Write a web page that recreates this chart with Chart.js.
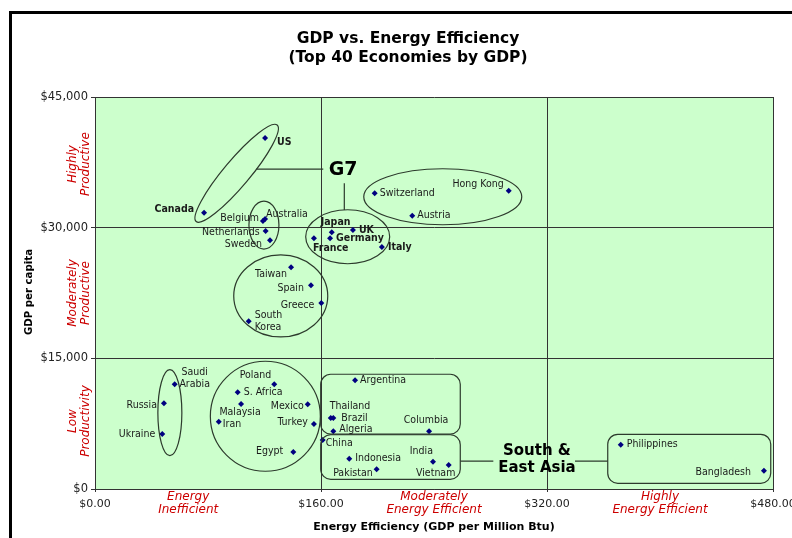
<!DOCTYPE html>
<html>
<head>
<meta charset="utf-8">
<title>GDP vs. Energy Efficiency</title>
<script src="https://cdn.jsdelivr.net/npm/chart.js@4.4.1/dist/chart.umd.min.js"></script>
<style>
  html, body { margin: 0; padding: 0; background: #fff; }
  #wrap { width: 792px; height: 538px; }
</style>
</head>
<body>
<div id="wrap"><canvas id="chart" width="792" height="538"></canvas></div>
<script>
// values
const countries = ['US', 'Canada', 'Australia', 'Belgium', 'Netherlands', 'Sweden',
  'Japan', 'Germany', 'France', 'UK', 'Italy', 'Switzerland', 'Hong Kong', 'Austria',
  'Taiwan', 'Spain', 'Greece', 'South\nKorea', 'Saudi\nArabia', 'Russia', 'Ukraine',
  'Poland', 'S. Africa', 'Malaysia', 'Iran', 'Mexico', 'Turkey', 'Egypt', 'China',
  'Argentina', 'Thailand', 'Brazil', 'Algeria', 'Columbia', 'Indonesia', 'Pakistan',
  'India', 'Vietnam', 'Philippines', 'Bangladesh'];
const efficiency = [120.4, 77.2, 120.4, 118.9, 120.8, 123.9,
  167.6, 166.4, 155.0, 182.6, 203.1, 198.0, 292.9, 224.6,
  138.8, 152.9, 160.2, 108.8, 56.4, 48.8, 47.6,
  126.9, 101.0, 103.4, 87.6, 150.6, 155.0, 140.4, 161.2,
  184.1, 166.9, 168.7, 168.7, 236.5, 180.0, 199.4,
  239.3, 250.4, 372.2, 473.6];
const gdpPerCapita = [40300, 31700, 31000, 30770, 29620, 28550,
  29470, 28780, 28780, 29720, 27780, 33950, 34250, 31370,
  25450, 23380, 21350, 19250, 12020, 9840, 6310,
  12020, 11100, 9760, 7730, 9720, 7460, 4250, 5620,
  12480, 8150, 8150, 6620, 6620, 3480, 2260,
  3130, 2760, 5090, 2100];
const g7 = ['US', 'Canada', 'Japan', 'UK', 'Germany', 'France', 'Italy'];

const xTicks = [0, 160, 320, 480];
const yTicks = [0, 15000, 30000, 45000];
const xBands = ['Energy\nInefficient', 'Moderately\nEnergy Efficient', 'Highly\nEnergy Efficient'];
const yBands = ['Low\nProductivity', 'Moderately\nProductive', 'Highly\nProductive'];

// label placement next to each point: dx, dy (px), align
const labelPos = {
  'US': [12, 4, 'left'], 'Canada': [-10, -4, 'right'], 'Australia': [1, -5, 'left'],
  'Belgium': [-4, -3, 'right'], 'Netherlands': [-6, 1, 'right'], 'Sweden': [-8, 4, 'right'],
  'Japan': [-11, -10, 'left'], 'Germany': [6, 0, 'left'], 'France': [-1, 10, 'left'],
  'UK': [6, 0, 'left'], 'Italy': [6, 0, 'left'], 'Switzerland': [5, 0, 'left'],
  'Hong Kong': [-5, -6, 'right'], 'Austria': [5, 0, 'left'], 'Taiwan': [-4, 7, 'right'],
  'Spain': [-7, 3, 'right'], 'Greece': [-7, 2, 'right'], 'South\nKorea': [6, 0, 'left'],
  'Saudi\nArabia': [20, -6, 'center'], 'Russia': [-7, 2, 'right'], 'Ukraine': [-7, 0, 'right'],
  'Poland': [-3, -9, 'right'], 'S. Africa': [6, 0, 'left'], 'Malaysia': [-1, 8, 'center'],
  'Iran': [4, 3, 'left'], 'Mexico': [-4, 2, 'right'], 'Turkey': [-6, -2, 'right'],
  'Egypt': [-10, -1, 'right'], 'China': [3, 3, 'left'], 'Argentina': [5, 0, 'left'],
  'Thailand': [-1, -12, 'left'], 'Brazil': [8, 0, 'left'], 'Algeria': [6, -2, 'left'],
  'Columbia': [-3, -11, 'center'], 'Indonesia': [6, 0, 'left'], 'Pakistan': [-4, 4, 'right'],
  'India': [0, -10, 'right'], 'Vietnam': [-13, 8, 'center'], 'Philippines': [6, 0, 'left'],
  'Bangladesh': [-13, 2, 'right']
};

// grouping shapes (centres in data units, sizes in px)
const ovals = [
  {x: 100.3, y: 36240, rx: 63, ry: 13, rot: -50},
  {x: 119.6, y: 30300, rx: 15, ry: 24, rot: 0},
  {x: 178.9, y: 28960, rx: 42, ry: 27, rot: 0},
  {x: 246.2, y: 33550, rx: 79, ry: 28, rot: 0},
  {x: 131.5, y: 22160, rx: 47, ry: 41, rot: 0},
  {x: 53.0, y: 8760, rx: 12, ry: 43, rot: 0},
  {x: 120.6, y: 8350, rx: 55, ry: 55, rot: 0}
];
const boxes = [
  {x1: 159.8, y1: 13170, x2: 258.6, y2: 6310},
  {x1: 159.8, y1: 6230, x2: 258.6, y2: 1110},
  {x1: 363.0, y1: 6280, x2: 478.4, y2: 650}
];
const links = [
  [114.2, 36730, 161.6, 36730],
  [176.5, 35090, 176.5, 32030],
  [258.6, 3210, 282.0, 3210],
  [339.8, 3210, 363.0, 3210]
];
const callouts = [
  {text: 'G7', x: 175.6, y: 36620, size: 19},
  {text: 'South &\nEast Asia', x: 312.9, y: 3330, size: 15}
];

var points = countries.map((c, i) => ({x: efficiency[i], y: gdpPerCapita[i], name: c}));

const RED = '#cc0000';
const LINE = '#333333';

function multiline(ctx, text, x, y, lh) {
  const lines = text.split('\n');
  const top = y - (lines.length - 1) * lh / 2;
  lines.forEach((l, i) => ctx.fillText(l, x, top + i * lh));
}

const decor = {
  id: 'decor',
  beforeDraw(chart) {
    const ctx = chart.ctx, a = chart.chartArea;
    ctx.save();
    ctx.fillStyle = '#fff';
    ctx.fillRect(0, 0, chart.width, chart.height);
    // outer frame
    ctx.fillStyle = '#000';
    ctx.fillRect(9, 11, 3, chart.height - 11);
    ctx.fillRect(9, 11, chart.width - 9, 3);
    ctx.fillStyle = '#ccffcc';
    ctx.fillRect(a.left, a.top, a.right - a.left, a.bottom - a.top);
    ctx.restore();
  },
  afterDatasetsDraw(chart) {
    const ctx = chart.ctx, a = chart.chartArea;
    const sx = chart.scales.x, sy = chart.scales.y;
    ctx.save();

    // ovals and boxes
    ctx.strokeStyle = '#2c3a2c';
    ctx.lineWidth = 1.2;
    ovals.forEach(o => {
      ctx.beginPath();
      ctx.ellipse(sx.getPixelForValue(o.x), sy.getPixelForValue(o.y), o.rx, o.ry, o.rot * Math.PI / 180, 0, Math.PI * 2);
      ctx.stroke();
    });
    boxes.forEach(b => {
      const x1 = sx.getPixelForValue(b.x1), x2 = sx.getPixelForValue(b.x2);
      const y1 = sy.getPixelForValue(b.y1), y2 = sy.getPixelForValue(b.y2);
      ctx.beginPath();
      ctx.roundRect(x1, y1, x2 - x1, y2 - y1, 10);
      ctx.stroke();
    });
    links.forEach(l => {
      ctx.beginPath();
      ctx.moveTo(sx.getPixelForValue(l[0]), sy.getPixelForValue(l[1]));
      ctx.lineTo(sx.getPixelForValue(l[2]), sy.getPixelForValue(l[3]));
      ctx.stroke();
    });

    // point labels
    ctx.fillStyle = '#1a1a1a';
    ctx.textBaseline = 'middle';
    points.forEach(p => {
      const pos = labelPos[p.name] || [5, 0, 'left'];
      const bold = g7.includes(p.name);
      ctx.font = (bold ? 'bold ' : '') + '10.5px "DejaVu Sans Condensed", "DejaVu Sans", sans-serif';
      ctx.textAlign = pos[2];
      multiline(ctx, p.name, sx.getPixelForValue(p.x) + pos[0], sy.getPixelForValue(p.y) + pos[1], 12);
    });

    ctx.fillStyle = '#000';
    ctx.textAlign = 'center';
    callouts.forEach(c => {
      ctx.font = 'bold ' + c.size + 'px "DejaVu Sans", sans-serif';
      multiline(ctx, c.text, sx.getPixelForValue(c.x), sy.getPixelForValue(c.y), c.size + 2);
    });

    // titles
    ctx.font = 'bold 15.5px "DejaVu Sans", sans-serif';
    ctx.fillText('GDP vs. Energy Efficiency', 408, 39);
    ctx.fillText('(Top 40 Economies by GDP)', 408, 58);

    ctx.font = 'bold 11px "DejaVu Sans", sans-serif';
    ctx.fillText('Energy Efficiency (GDP per Million Btu)', (a.left + a.right) / 2, 527);
    ctx.font = 'bold 10.2px "DejaVu Sans", sans-serif';
    ctx.save();
    ctx.translate(29, 292);
    ctx.rotate(-Math.PI / 2);
    ctx.fillText('GDP per capita', 0, 0);
    ctx.restore();

    // red band labels
    ctx.fillStyle = RED;
    ctx.font = 'italic 12px "DejaVu Sans", sans-serif';
    const xAt = [66, 240, 400];
    xBands.forEach((t, i) => multiline(ctx, t, sx.getPixelForValue(xAt[i]), 503.5, 13));
    const yAt = [7800, 22500, 37300];
    yBands.forEach((t, i) => {
      ctx.save();
      ctx.translate(79, sy.getPixelForValue(yAt[i]));
      ctx.rotate(-Math.PI / 2);
      multiline(ctx, t, 0, 0, 13);
      ctx.restore();
    });
    ctx.restore();
  }
};

new Chart(document.getElementById('chart'), {
  type: 'scatter',
  data: {
    datasets: [{
      label: 'Economies',
      data: points,
      pointStyle: 'rectRot',
      radius: 3,
      backgroundColor: '#000080',
      borderColor: '#000080',
      borderWidth: 0
    }]
  },
  options: {
    responsive: false,
    animation: false,
    devicePixelRatio: 1,
    layout: { padding: { left: 10, right: 19, top: 97, bottom: 0 } },
    plugins: { legend: { display: false }, tooltip: { enabled: false } },
    scales: {
      x: {
        type: 'linear', min: xTicks[0], max: xTicks[xTicks.length - 1],
        afterFit: s => { s.height = 49; s.paddingLeft = 0; s.paddingRight = 0; },
        afterBuildTicks: s => { s.ticks = xTicks.map(v => ({value: v})); },
        grid: { color: LINE, tickLength: 3, lineWidth: 1 },
        border: { color: LINE },
        ticks: {
          padding: 6, color: '#222',
          font: { family: '"DejaVu Sans", sans-serif', size: 11 },
          callback: v => '$' + v.toFixed(2)
        }
      },
      y: {
        type: 'linear', min: yTicks[0], max: yTicks[yTicks.length - 1],
        afterFit: s => { s.width = 85; s.paddingTop = 0; s.paddingBottom = 0; },
        afterBuildTicks: s => { s.ticks = yTicks.map(v => ({value: v})); },
        grid: { color: LINE, tickLength: 4, lineWidth: 1 },
        border: { color: LINE },
        ticks: {
          padding: 3, color: '#222',
          font: { family: '"DejaVu Sans", sans-serif', size: 11.5 },
          callback: v => '$' + v.toLocaleString('en-US')
        }
      }
    }
  },
  plugins: [decor]
});
</script>
</body>
</html>
